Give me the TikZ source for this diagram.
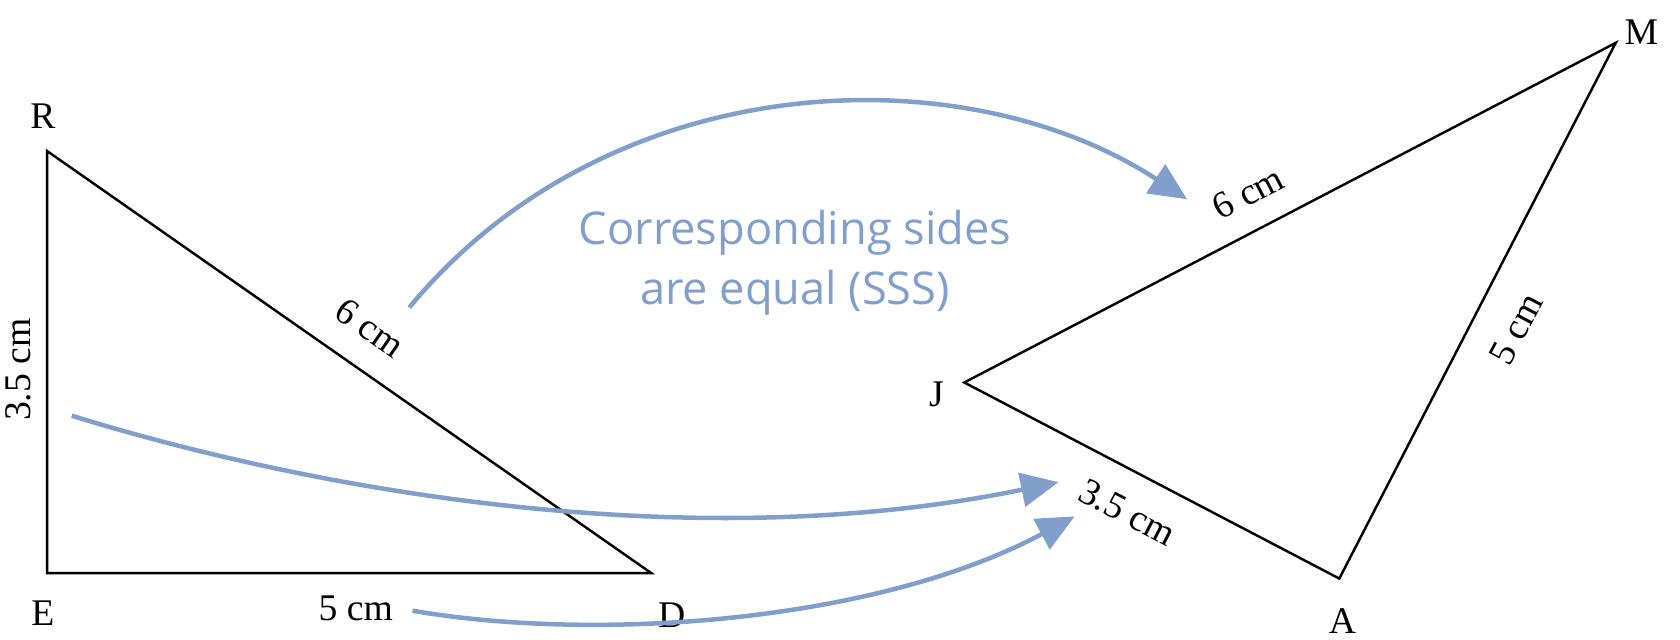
\documentclass[tikz,border=0pt]{standalone}
\usepackage{fontspec}
\setmainfont{Liberation Serif}
\newfontfamily\lblfont{Open Sans}
\usetikzlibrary{arrows.meta}
\definecolor{ab}{HTML}{829FCB}
\begin{document}
\begin{tikzpicture}[x=0.02cm,y=-0.02cm,
  tri/.style={line width=1.3pt,line join=miter},
  lab/.style={font=\fontsize{20}{20}\selectfont,inner sep=1pt},
  arr/.style={ab,line width=2.4pt,-{Triangle[length=20pt,width=18pt]}}]
\useasboundingbox (0,0) rectangle (1568,597);
\coordinate (R) at (44,141); \coordinate (E) at (44,535); \coordinate (D) at (608,535);
\coordinate (J) at (900,357); \coordinate (M) at (1508,40); \coordinate (A) at (1250,540);
\draw[tri] (R) -- (E) -- (D) -- cycle;
\draw[tri] (J) -- (M) -- (A) -- cycle;
\node[lab] (lR) at (40,108) {R};
\node[lab] (lE) at (40,572) {E};
\node[lab] (lD) at (627,574) {D};
\node[lab,rotate=90] (l35a) at (17,345) {3.5 cm};
\node[lab,rotate=-35] (l6a) at (345,306) {6 cm};
\node[lab] (l5a) at (332,568) {5 cm};
\node[lab] (lJ) at (874,368) {J};
\node[lab] (lM) at (1532,30) {M};
\node[lab] (lA) at (1253,580) {A};
\node[lab,rotate=27.5] (l6b) at (1165,180) {6 cm};
\node[lab,rotate=62] (l5b) at (1415,307) {5 cm};
\node[lab,rotate=-27.5] (l35b) at (1052,478) {3.5 cm};
\node[ab,font=\lblfont\fontsize{24}{32}\selectfont,align=center] (txt) at (742,245) {Corresponding sides\\are equal (SSS)};
\coordinate (s1) at (382,287); \coordinate (e1) at (1108,186);
\coordinate (s2) at (67,388); \coordinate (e2) at (988,450);
\coordinate (s3) at (385,570); \coordinate (e3) at (1003,482);
\draw[arr] (s1) .. controls (570,60) and (900,50) .. (e1);
\draw[arr] (s2) .. controls (300,460) and (650,520) .. (e2);
\draw[arr] (s3) .. controls (560,600) and (820,580) .. (e3);
\end{tikzpicture}
\end{document}
